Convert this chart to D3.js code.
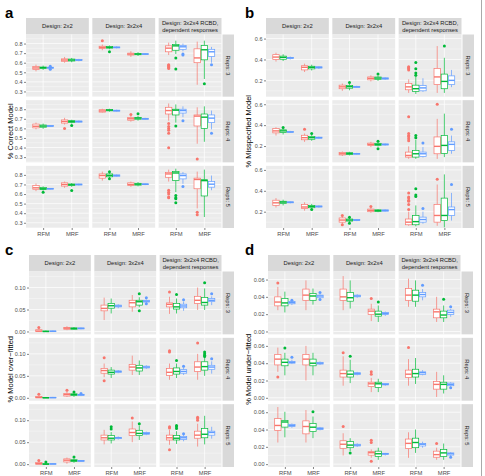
<!DOCTYPE html>
<html><head><meta charset="utf-8">
<script src="https://cdn.jsdelivr.net/npm/d3@7"></script>
<style>body{margin:0;background:#fff}svg{display:block;font-family:"Liberation Sans",Arial,sans-serif}</style>
</head><body><svg id="c" width="485" height="476"></svg>
<script>
// ---------- data ----------
const categories = ["RFM", "MRF"];
const seriesColors = ["#F8766D", "#00BA38", "#619CFF"];
const designs = [["Design: 2x2"], ["Design: 3x2x4"], ["Design: 3x2x4 RCBD,", "dependent responses"]];
const reps = ["Reps: 3", "Reps: 4", "Reps: 5"];
// each box: [lowerWhisker, q1, median, q3, upperWhisker, [outliers]]
// order: row(Reps) -> column(Design) -> category(RFM,MRF) -> series(red,green,blue)
const boxesA = [
 // Reps 3
 [0.51,0.53,0.545,0.56,0.58,[]],[0.525,0.538,0.548,0.555,0.57,[]],[0.535,0.542,0.548,0.553,0.56,[0.562,0.533]],
 [0.60,0.615,0.628,0.64,0.66,[]],[0.605,0.618,0.628,0.638,0.65,[]],[0.615,0.622,0.628,0.633,0.64,[]],
 [0.73,0.75,0.76,0.772,0.79,[0.83]],[0.74,0.752,0.76,0.768,0.78,[0.714]],[0.75,0.755,0.76,0.764,0.77,[]],
 [0.66,0.68,0.69,0.70,0.72,[]],[0.67,0.683,0.69,0.697,0.71,[]],[0.68,0.686,0.69,0.694,0.70,[]],
 [0.68,0.714,0.752,0.776,0.81,[0.58,0.57,0.56,0.55,0.54]],[0.69,0.73,0.776,0.79,0.83,[0.65,0.535]],[0.72,0.74,0.766,0.78,0.80,[0.69,0.68]],
 [0.37,0.60,0.65,0.745,0.82,[]],[0.43,0.63,0.735,0.78,0.83,[0.38]],[0.60,0.665,0.714,0.74,0.765,[0.58]],
 // Reps 4
 [0.59,0.605,0.622,0.645,0.66,[]],[0.595,0.612,0.624,0.635,0.65,[]],[0.615,0.62,0.625,0.63,0.635,[]],
 [0.64,0.655,0.672,0.688,0.71,[0.60]],[0.65,0.662,0.672,0.68,0.69,[0.63]],[0.66,0.665,0.672,0.676,0.682,[]],
 [0.765,0.77,0.782,0.795,0.805,[]],[0.775,0.783,0.79,0.796,0.805,[]],[0.775,0.78,0.785,0.79,0.795,[]],
 [0.67,0.685,0.70,0.715,0.73,[0.745]],[0.68,0.695,0.707,0.715,0.73,[0.752]],[0.69,0.695,0.70,0.705,0.71,[]],
 [0.68,0.75,0.786,0.82,0.86,[0.65,0.62,0.60,0.58,0.55,0.397]],[0.66,0.74,0.79,0.80,0.85,[0.625]],[0.717,0.76,0.786,0.80,0.83,[0.68]],
 [0.44,0.625,0.728,0.74,0.82,[0.28]],[0.46,0.60,0.717,0.75,0.83,[]],[0.59,0.66,0.707,0.74,0.786,[0.55]],
 // Reps 5
 [0.63,0.65,0.665,0.69,0.71,[]],[0.635,0.648,0.655,0.668,0.68,[0.62]],[0.648,0.652,0.655,0.66,0.663,[]],
 [0.665,0.683,0.70,0.717,0.73,[]],[0.675,0.688,0.697,0.705,0.715,[0.638]],[0.69,0.695,0.70,0.704,0.708,[]],
 [0.74,0.766,0.793,0.81,0.834,[]],[0.765,0.78,0.795,0.81,0.82,[0.834,0.76]],[0.78,0.786,0.793,0.80,0.805,[]],
 [0.675,0.69,0.70,0.717,0.73,[]],[0.68,0.693,0.703,0.712,0.725,[]],[0.693,0.698,0.703,0.706,0.71,[]],
 [0.73,0.775,0.81,0.826,0.855,[0.64,0.62,0.60,0.57,0.56]],[0.62,0.74,0.82,0.834,0.865,[0.585,0.56,0.55,0.51]],[0.707,0.758,0.793,0.81,0.83,[0.68]],
 [0.45,0.655,0.752,0.766,0.834,[0.41,0.385]],[0.36,0.58,0.74,0.75,0.855,[]],[0.64,0.672,0.703,0.73,0.793,[]]
];
const boxesB = [
 [0.38,0.40,0.423,0.446,0.465,[]],[0.385,0.402,0.42,0.432,0.45,[]],[0.40,0.408,0.415,0.42,0.428,[]],
 [0.28,0.30,0.325,0.34,0.36,[]],[0.295,0.31,0.325,0.335,0.35,[]],[0.31,0.318,0.324,0.33,0.336,[]],
 [0.10,0.12,0.138,0.154,0.17,[]],[0.105,0.125,0.14,0.152,0.165,[0.18]],[0.128,0.133,0.138,0.143,0.148,[]],
 [0.19,0.205,0.22,0.233,0.248,[]],[0.195,0.21,0.222,0.232,0.245,[0.26]],[0.205,0.212,0.218,0.224,0.23,[]],
 [0.08,0.11,0.138,0.17,0.21,[0.33,0.32,0.31,0.30]],[0.07,0.095,0.12,0.154,0.24,[0.31,0.27,0.25,0.37]],[0.09,0.10,0.128,0.15,0.22,[]],
 [0.08,0.16,0.233,0.315,0.528,[]],[0.08,0.12,0.19,0.26,0.416,[0.528]],[0.135,0.16,0.20,0.243,0.30,[]],
 [0.30,0.326,0.345,0.368,0.38,[]],[0.31,0.33,0.345,0.355,0.37,[0.377]],[0.325,0.33,0.335,0.34,0.345,[]],
 [0.24,0.26,0.28,0.303,0.32,[0.36]],[0.25,0.265,0.28,0.292,0.305,[0.32]],[0.27,0.275,0.28,0.285,0.29,[]],
 [0.105,0.115,0.126,0.138,0.148,[]],[0.11,0.12,0.128,0.136,0.145,[]],[0.118,0.122,0.126,0.13,0.134,[]],
 [0.19,0.205,0.216,0.228,0.24,[]],[0.195,0.205,0.216,0.226,0.235,[0.245,0.175]],[0.205,0.21,0.215,0.22,0.225,[]],
 [0.077,0.094,0.11,0.142,0.197,[0.32,0.30,0.29,0.27,0.25,0.48]],[0.077,0.094,0.126,0.158,0.26,[0.30,0.28]],[0.09,0.10,0.126,0.142,0.19,[0.23]],
 [0.077,0.126,0.197,0.287,0.46,[0.60]],[0.094,0.13,0.206,0.30,0.51,[]],[0.126,0.158,0.216,0.24,0.30,[0.36]],
 [0.24,0.26,0.285,0.31,0.33,[]],[0.26,0.278,0.292,0.30,0.315,[]],[0.28,0.285,0.29,0.295,0.30,[]],
 [0.21,0.23,0.245,0.27,0.29,[]],[0.225,0.238,0.25,0.26,0.275,[0.22]],[0.24,0.245,0.25,0.255,0.26,[]],
 [0.085,0.10,0.12,0.14,0.155,[0.164,0.075]],[0.10,0.11,0.12,0.13,0.14,[0.148,0.09]],[0.11,0.115,0.12,0.125,0.13,[]],
 [0.19,0.20,0.213,0.225,0.235,[0.25]],[0.195,0.203,0.21,0.218,0.225,[]],[0.20,0.205,0.212,0.217,0.222,[]],
 [0.065,0.075,0.10,0.13,0.20,[0.38,0.34,0.33,0.31,0.30,0.27,0.22]],[0.06,0.075,0.105,0.164,0.26,[0.42,0.36,0.345]],[0.085,0.10,0.125,0.148,0.20,[0.23]],
 [0.065,0.10,0.164,0.27,0.46,[0.51]],[0.05,0.115,0.164,0.33,0.557,[]],[0.115,0.164,0.22,0.245,0.38,[0.46]]
];
const boxesC = [
 [0,0,0.001,0.004,0.007,[0.009]],[0,0,0,0.001,0.002,[]],[0,0,0.0005,0.001,0.002,[]],
 [0.003,0.005,0.0075,0.009,0.012,[]],[0.004,0.005,0.007,0.008,0.010,[]],[0.005,0.006,0.007,0.008,0.009,[]],
 [0.026,0.047,0.0526,0.060,0.077,[]],[0.041,0.053,0.0586,0.064,0.075,[]],[0.053,0.056,0.058,0.060,0.062,[]],
 [0.045,0.056,0.0654,0.071,0.083,[]],[0.055,0.060,0.0677,0.071,0.078,[0.086,0.047]],[0.065,0.067,0.069,0.071,0.073,[0.077,0.063]],
 [0.040,0.056,0.0617,0.065,0.079,[0.090]],[0.041,0.051,0.056,0.064,0.075,[0.084]],[0.047,0.054,0.058,0.062,0.068,[0.072]],
 [0.049,0.064,0.071,0.080,0.100,[]],[0.049,0.060,0.066,0.077,0.098,[0.111]],[0.060,0.068,0.071,0.075,0.080,[0.086]],
 [0,0,0.001,0.003,0.005,[0.008]],[0,0,0,0.001,0.002,[]],[0,0,0.0005,0.001,0.002,[]],
 [0.002,0.004,0.0074,0.010,0.014,[0.017]],[0.002,0.005,0.0074,0.009,0.011,[0.013]],[0.004,0.0055,0.007,0.008,0.009,[0.010]],
 [0.047,0.056,0.062,0.067,0.078,[0.091,0.039]],[0.045,0.054,0.058,0.063,0.070,[]],[0.056,0.058,0.060,0.061,0.063,[]],
 [0.052,0.063,0.070,0.076,0.096,[]],[0.052,0.061,0.068,0.074,0.085,[]],[0.066,0.068,0.070,0.072,0.074,[]],
 [0.041,0.051,0.058,0.067,0.078,[0.107,0.104]],[0.045,0.054,0.060,0.068,0.078,[0.085]],[0.052,0.056,0.060,0.064,0.069,[0.072]],
 [0.041,0.060,0.070,0.082,0.100,[0.125]],[0.050,0.063,0.071,0.082,0.095,[0.104,0.100,0.097,0.094]],[0.055,0.065,0.070,0.074,0.083,[0.089]],
 [0,0,0.001,0.004,0.006,[0.0085]],[0,0,0,0.001,0.002,[0.005]],[0,0,0.0005,0.001,0.002,[]],
 [0.001,0.005,0.009,0.012,0.015,[]],[0.003,0.006,0.008,0.010,0.013,[0.016]],[0.005,0.006,0.0075,0.008,0.009,[]],
 [0.045,0.055,0.060,0.066,0.078,[]],[0.047,0.055,0.059,0.065,0.073,[0.085,0.080]],[0.056,0.058,0.060,0.061,0.063,[]],
 [0.050,0.065,0.072,0.080,0.097,[0.105]],[0.055,0.065,0.070,0.077,0.088,[0.092]],[0.066,0.068,0.070,0.072,0.074,[]],
 [0.044,0.055,0.060,0.066,0.078,[0.085,0.082,0.033]],[0.046,0.055,0.059,0.065,0.075,[0.088,0.085,0.081]],[0.052,0.056,0.060,0.063,0.068,[0.069]],
 [0.040,0.059,0.066,0.075,0.092,[0.107,0.104,0.100]],[0.045,0.060,0.068,0.081,0.110,[]],[0.058,0.066,0.072,0.075,0.085,[]]
];
const boxesD = [
 [0.0246,0.0296,0.034,0.040,0.0515,[0.056]],[0.022,0.0296,0.033,0.038,0.046,[]],[0.0305,0.032,0.0335,0.0345,0.035,[0.036]],
 [0.0246,0.036,0.042,0.049,0.059,[]],[0.031,0.036,0.041,0.044,0.0496,[]],[0.038,0.039,0.041,0.042,0.043,[0.045,0.037]],
 [0.0246,0.036,0.040,0.049,0.064,[]],[0.0265,0.035,0.039,0.045,0.059,[]],[0.039,0.040,0.041,0.042,0.043,[]],
 [0.012,0.0196,0.0235,0.0258,0.032,[0.038]],[0.011,0.0177,0.020,0.0235,0.030,[0.034]],[0.018,0.0195,0.0208,0.022,0.023,[]],
 [0.0285,0.036,0.042,0.0496,0.061,[]],[0.0285,0.035,0.042,0.0477,0.059,[]],[0.036,0.040,0.0427,0.045,0.049,[0.0535]],
 [0.011,0.0158,0.0227,0.0258,0.040,[]],[0.011,0.0158,0.019,0.0235,0.030,[0.0373]],[0.017,0.0196,0.022,0.0246,0.026,[0.0285]],
 [0.030,0.038,0.0447,0.050,0.058,[0.024]],[0.026,0.037,0.041,0.0447,0.052,[0.0575]],[0.039,0.040,0.041,0.042,0.044,[0.047]],
 [0.020,0.038,0.0447,0.050,0.060,[]],[0.026,0.037,0.040,0.0447,0.052,[]],[0.038,0.039,0.040,0.041,0.042,[]],
 [0.014,0.024,0.028,0.032,0.048,[0.052]],[0.017,0.024,0.0273,0.031,0.044,[0.048]],[0.026,0.027,0.028,0.029,0.030,[]],
 [0.0066,0.013,0.0162,0.018,0.023,[0.030,0.0273]],[0.0066,0.012,0.0162,0.018,0.022,[]],[0.014,0.015,0.0155,0.0165,0.017,[]],
 [0.014,0.0234,0.0273,0.032,0.0447,[0.058]],[0.016,0.024,0.028,0.033,0.046,[]],[0.026,0.027,0.029,0.030,0.032,[]],
 [0.001,0.010,0.0155,0.019,0.030,[]],[0.005,0.010,0.0155,0.018,0.026,[]],[0.013,0.014,0.0155,0.017,0.018,[0.0115]],
 [0.025,0.039,0.0447,0.0526,0.066,[]],[0.031,0.0428,0.0487,0.0506,0.0605,[]],[0.042,0.0435,0.0447,0.046,0.047,[]],
 [0.025,0.035,0.0435,0.050,0.0625,[]],[0.030,0.0376,0.0427,0.047,0.055,[0.0605]],[0.039,0.040,0.041,0.042,0.043,[]],
 [0.010,0.0183,0.023,0.027,0.0357,[0.0435]],[0.015,0.019,0.022,0.026,0.030,[0.013]],[0.020,0.021,0.022,0.023,0.024,[]],
 [0.0073,0.0104,0.0132,0.0144,0.017,[0.0277,0.025,0.0033]],[0.005,0.009,0.012,0.015,0.019,[]],[0.010,0.011,0.012,0.0125,0.013,[]],
 [0.0073,0.018,0.024,0.029,0.0368,[]],[0.013,0.019,0.025,0.030,0.040,[]],[0.019,0.021,0.023,0.024,0.026,[]],
 [0.005,0.008,0.011,0.015,0.019,[0.0238]],[0.005,0.009,0.013,0.017,0.0238,[]],[0.009,0.0105,0.012,0.013,0.014,[0.008]]
];
const ticksA = [0.3,0.4,0.5,0.6,0.7,0.8];
const ticksB = [0.2,0.4,0.6];
const ticksC = [0,0.05,0.10];
const ticksD = [0,0.02,0.04,0.06];
const titles = ["% Correct Model","% Misspecified Model","% Model over\u2212fitted","% Model under\u2212fitted"];

// ---------- drawing ----------
const svg = d3.select("#c");
const panels = [
 {letter:"a", lx:5,  ly:18,  L:26,  R:234, T:18,  B:228, data:boxesA, dom:[0.2455,0.8945], ticks:ticksA, fmt:".1f", title:titles[0], tx:10},
 {letter:"b", lx:245,ly:18,  L:266, R:474, T:18,  B:228, data:boxesB, dom:[0.044,0.639],   ticks:ticksB, fmt:".1f", title:titles[1], tx:248},
 {letter:"c", lx:5,  ly:255, L:29,  R:234, T:255, B:467, data:boxesC, dom:[-0.0065,0.1365],ticks:ticksC, fmt:".2f", title:titles[2], tx:10},
 {letter:"d", lx:245,ly:255, L:268, R:473, T:255, B:467, data:boxesD, dom:[-0.0033,0.0693],ticks:ticksD, fmt:".2f", title:titles[3], tx:248}
];

svg.append("line").attr("x1",481.5).attr("x2",481.5).attr("y1",0).attr("y2",476)
  .attr("stroke","#aaa").attr("stroke-width",1);

panels.forEach(p => {
  const g = svg.append("g");
  const gap = 3.5, sw = 11.5, sg = 1, sh = 16.5;
  const fw = (p.R - sw - sg - p.L - 2*gap) / 3;
  const rh = (p.B - p.T - sh - 2*gap) / 3;
  const step = p.ticks[1] - p.ticks[0];
  const minor = [];
  for (let v = p.ticks[0] - step/2; v <= p.dom[1]; v += step) if (v >= p.dom[0]) minor.push(v);

  g.append("text").attr("x", p.lx).attr("y", p.ly).text(p.letter)
    .attr("font-size", 15).attr("font-weight", "bold").attr("fill", "#000");

  const rowsMid = p.T + sh + (p.B - p.T - sh) / 2;
  g.append("text").attr("transform", `translate(${p.tx},${rowsMid}) rotate(-90)`)
    .attr("text-anchor", "middle").attr("dominant-baseline", "central")
    .attr("font-size", 7.5).attr("fill", "#000").text(p.title);

  for (let c = 0; c < 3; c++) {
    const fx = p.L + c * (fw + gap);
    g.append("rect").attr("x", fx).attr("y", p.T).attr("width", fw).attr("height", sh).attr("fill", "#D9D9D9");
    const lines = designs[c];
    lines.forEach((t, i) => {
      g.append("text").attr("x", fx + fw/2)
        .attr("y", p.T + sh/2 + (i - (lines.length-1)/2) * 6.5)
        .attr("dominant-baseline", "central").attr("text-anchor", "middle")
        .attr("font-size", 5.8).attr("fill", "#1A1A1A").text(t);
    });
  }

  for (let r = 0; r < 3; r++) {
    const fy = p.T + sh + r * (rh + gap);
    const y = d3.scaleLinear().domain(p.dom).range([fy + rh, fy]);
    // right strip
    const sx = p.R - sw;
    g.append("rect").attr("x", sx).attr("y", fy).attr("width", sw).attr("height", rh).attr("fill", "#D9D9D9");
    g.append("text").attr("transform", `translate(${sx + sw/2},${fy + rh/2}) rotate(90)`)
      .attr("text-anchor", "middle").attr("dominant-baseline", "central")
      .attr("font-size", 5.8).attr("fill", "#1A1A1A").text(reps[r]);

    for (let c = 0; c < 3; c++) {
      const fx = p.L + c * (fw + gap);
      const x = d3.scaleLinear().domain([0.4, 2.6]).range([fx, fx + fw]);
      const pg = g.append("g");
      pg.append("rect").attr("x", fx).attr("y", fy).attr("width", fw).attr("height", rh).attr("fill", "#EBEBEB");
      pg.selectAll(".mn").data(minor).enter().append("line")
        .attr("x1", fx).attr("x2", fx + fw).attr("y1", d => y(d)).attr("y2", d => y(d))
        .attr("stroke", "#fff").attr("stroke-width", 0.35);
      pg.selectAll(".mj").data(p.ticks).enter().append("line")
        .attr("x1", fx).attr("x2", fx + fw).attr("y1", d => y(d)).attr("y2", d => y(d))
        .attr("stroke", "#fff").attr("stroke-width", 0.7);
      pg.selectAll(".vx").data([1, 2]).enter().append("line")
        .attr("x1", d => x(d)).attr("x2", d => x(d)).attr("y1", fy).attr("y2", fy + rh)
        .attr("stroke", "#fff").attr("stroke-width", 0.7);

      for (let k = 0; k < 2; k++) {
        for (let s = 0; s < 3; s++) {
          const b = p.data[r*18 + c*6 + k*3 + s];
          const cx = x(k + 1 + (s - 1) * 0.25);
          const hw = (x(0.1125) - x(0));
          const col = seriesColors[s];
          const bg = pg.append("g");
          bg.append("line").attr("x1", cx).attr("x2", cx).attr("y1", y(b[4])).attr("y2", y(b[3]))
            .attr("stroke", col).attr("stroke-width", 0.7);
          bg.append("line").attr("x1", cx).attr("x2", cx).attr("y1", y(b[1])).attr("y2", y(b[0]))
            .attr("stroke", col).attr("stroke-width", 0.7);
          bg.append("rect").attr("x", cx - hw).attr("width", 2*hw)
            .attr("y", y(b[3])).attr("height", Math.max(0.5, y(b[1]) - y(b[3])))
            .attr("fill", "#fff").attr("stroke", col).attr("stroke-width", 0.7);
          bg.append("line").attr("x1", cx - hw).attr("x2", cx + hw).attr("y1", y(b[2])).attr("y2", y(b[2]))
            .attr("stroke", col).attr("stroke-width", 1.4);
          bg.selectAll("circle").data(b[5]).enter().append("circle")
            .attr("cx", cx).attr("cy", d => y(d)).attr("r", 1.5).attr("fill", col);
        }
      }

      if (c === 0) {
        const ax = g.append("g").attr("transform", `translate(${fx},0)`)
          .call(d3.axisLeft(y).tickValues(p.ticks).tickFormat(d3.format(p.fmt)).tickSize(2).tickPadding(1.5));
        ax.select(".domain").remove();
        ax.selectAll("line").attr("stroke", "#333").attr("stroke-width", 0.6);
        ax.selectAll("text").attr("font-size", 5.5).attr("fill", "#4D4D4D").attr("font-family", "Liberation Sans, Arial, sans-serif");
      }
      if (r === 2) {
        const ax = g.append("g").attr("transform", `translate(0,${fy + rh})`)
          .call(d3.axisBottom(x).tickValues([1, 2]).tickFormat(d => categories[d - 1]).tickSize(2).tickPadding(2));
        ax.select(".domain").remove();
        ax.selectAll("line").attr("stroke", "#333").attr("stroke-width", 0.6);
        ax.selectAll("text").attr("font-size", 5.8).attr("fill", "#4D4D4D").attr("font-family", "Liberation Sans, Arial, sans-serif");
      }
    }
  }
});
</script></body></html>
